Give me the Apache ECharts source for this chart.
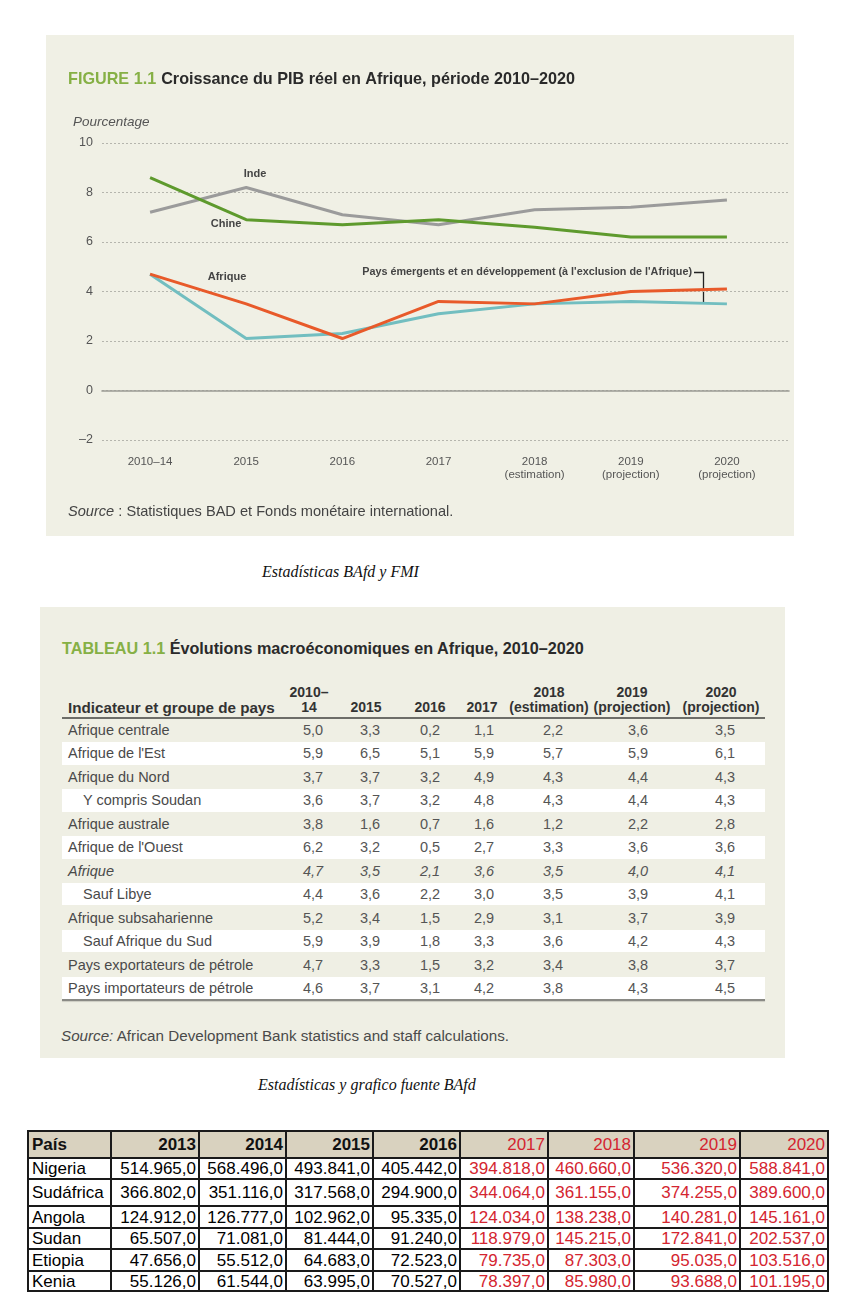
<!DOCTYPE html>
<html>
<head>
<meta charset="utf-8">
<script src="https://cdn.jsdelivr.net/npm/echarts@6/dist/echarts.min.js"></script>
<style>
  html, body { margin: 0; padding: 0; background: #ffffff; }
  body { width: 850px; height: 1314px; position: relative; overflow: hidden; font-family: "Liberation Sans", Arial, sans-serif; }
  .abs { position: absolute; white-space: nowrap; }
  #chartPanel { position: absolute; left: 46px; top: 35px; width: 748px; height: 501px; }
  .caption { position: absolute; font-family: "Liberation Serif", "Times New Roman", serif; font-style: italic; font-size: 16px; color: #111; white-space: nowrap; transform: translateY(-50%); }
  #tabPanel { position: absolute; left: 40px; top: 607px; width: 745px; height: 451px; background: #efefe4; }
  .t1 { position: absolute; white-space: nowrap; font-size: 14.5px; color: #4a4a4a; transform: translateY(-50%); }
  .t1h { position: absolute; white-space: nowrap; font-size: 14px; font-weight: bold; color: #333; transform: translate(-50%, -50%); }
  .t1v { position: absolute; white-space: nowrap; font-size: 14.5px; color: #555; transform: translate(-50%, -50%); }
  table.gdp { position: absolute; left: 27px; top: 1130px; border-collapse: collapse; font-family: "Liberation Sans", Arial, sans-serif; font-size: 17px; table-layout: fixed; }
  table.gdp td, table.gdp th { border: 2px solid #1a1a1a; padding: 0 2px 0 3px; text-align: right; line-height: 1; overflow: hidden; white-space: nowrap; }
  table.gdp th { background: #d9d2bf; font-weight: bold; color: #111; }
  table.gdp th.red { color: #d42530; font-weight: normal; }
  table.gdp td.red { color: #d42530; }
  table.gdp td.name, table.gdp th.name { text-align: left; }
</style>
</head>
<body>
<div id="chartPanel"></div>
<div class="caption" style="left:262px; top:572px;">Estadísticas BAfd y FMI</div>
<div id="tabPanel"></div>
<div class="caption" style="left:258px; top:1085px;">Estadísticas y grafico fuente BAfd</div>
<div id="gdpHolder"></div>

<script>
// ---------------- Figure 1.1 data ----------------
const categories = ['2010–14', '2015', '2016', '2017', '2018\n(estimation)', '2019\n(projection)', '2020\n(projection)'];
const inde = [7.2, 8.2, 7.1, 6.7, 7.3, 7.4, 7.7];
const chine = [8.6, 6.9, 6.7, 6.9, 6.6, 6.2, 6.2];
const paysEmergents = [4.7, 2.1, 2.3, 3.1, 3.5, 3.6, 3.5];
const afrique = [4.7, 3.5, 2.1, 3.6, 3.5, 4.0, 4.1];
const yMin = -2, yMax = 10, yStep = 2;

// ---------------- Tableau 1.1 data ----------------
const tabHeaderTop = ['2010–', '', '', '', '2018', '2019', '2020'];
const tabHeaderBottom = ['14', '2015', '2016', '2017', '(estimation)', '(projection)', '(projection)'];
const tabRowNames = ['Afrique centrale', "Afrique de l'Est", 'Afrique du Nord', 'Y compris Soudan', 'Afrique australe', "Afrique de l'Ouest", 'Afrique', 'Sauf Libye', 'Afrique subsaharienne', 'Sauf Afrique du Sud', 'Pays exportateurs de pétrole', 'Pays importateurs de pétrole'];
const tabIndented = [false, false, false, true, false, false, false, true, false, true, false, false];
const tabItalic = [false, false, false, false, false, false, true, false, false, false, false, false];
const tabValues = [
  ['5,0', '3,3', '0,2', '1,1', '2,2', '3,6', '3,5'],
  ['5,9', '6,5', '5,1', '5,9', '5,7', '5,9', '6,1'],
  ['3,7', '3,7', '3,2', '4,9', '4,3', '4,4', '4,3'],
  ['3,6', '3,7', '3,2', '4,8', '4,3', '4,4', '4,3'],
  ['3,8', '1,6', '0,7', '1,6', '1,2', '2,2', '2,8'],
  ['6,2', '3,2', '0,5', '2,7', '3,3', '3,6', '3,6'],
  ['4,7', '3,5', '2,1', '3,6', '3,5', '4,0', '4,1'],
  ['4,4', '3,6', '2,2', '3,0', '3,5', '3,9', '4,1'],
  ['5,2', '3,4', '1,5', '2,9', '3,1', '3,7', '3,9'],
  ['5,9', '3,9', '1,8', '3,3', '3,6', '4,2', '4,3'],
  ['4,7', '3,3', '1,5', '3,2', '3,4', '3,8', '3,7'],
  ['4,6', '3,7', '3,1', '4,2', '3,8', '4,3', '4,5']
];

// ---------------- GDP table data ----------------
const gdpYears = ['2013', '2014', '2015', '2016', '2017', '2018', '2019', '2020'];
const gdpCountries = ['Nigeria', 'Sudáfrica', 'Angola', 'Sudan', 'Etiopia', 'Kenia'];
const gdpNigeria = ['514.965,0', '568.496,0', '493.841,0', '405.442,0', '394.818,0', '460.660,0', '536.320,0', '588.841,0'];
const gdpSudafrica = ['366.802,0', '351.116,0', '317.568,0', '294.900,0', '344.064,0', '361.155,0', '374.255,0', '389.600,0'];
const gdpAngola = ['124.912,0', '126.777,0', '102.962,0', '95.335,0', '124.034,0', '138.238,0', '140.281,0', '145.161,0'];
const gdpSudan = ['65.507,0', '71.081,0', '81.444,0', '91.240,0', '118.979,0', '145.215,0', '172.841,0', '202.537,0'];
const gdpEtiopia = ['47.656,0', '55.512,0', '64.683,0', '72.523,0', '79.735,0', '87.303,0', '95.035,0', '103.516,0'];
const gdpKenia = ['55.126,0', '61.544,0', '63.995,0', '70.527,0', '78.397,0', '85.980,0', '93.688,0', '101.195,0'];

// ================= Figure with ECharts =================
const FONT = '"Liberation Sans", Arial, sans-serif';
const chart = echarts.init(document.getElementById('chartPanel'), null, { renderer: 'canvas' });
const lineSeries = (name, data, color, z) => ({
  name, type: 'line', data, xAxisIndex: 0, yAxisIndex: 0,
  symbol: 'none', smooth: false, z,
  lineStyle: { color, width: 3 }, itemStyle: { color },
  emphasis: { disabled: true }
});
chart.setOption({
  animation: false,
  backgroundColor: '#f0f0e5',
  textStyle: { fontFamily: FONT },
  title: {
    left: 22, top: 36, padding: 0,
    text: '{a|FIGURE 1.1} {b|Croissance du PIB réel en Afrique, période 2010–2020}',
    textStyle: {
      rich: {
        a: { fontFamily: FONT, fontSize: 16.2, fontWeight: 'bold', color: '#86b045' },
        b: { fontFamily: FONT, fontSize: 16.2, fontWeight: 'bold', color: '#2a2a2a' }
      }
    }
  },
  grid: [
    { left: 56, right: 19, top: 108, bottom: 96 },
    { left: 56, right: 5, top: 108, bottom: 96 }
  ],
  xAxis: [
    {
      type: 'category', gridIndex: 0, data: categories, boundaryGap: true,
      axisLine: { show: false }, axisTick: { show: false },
      axisLabel: { color: '#555', fontSize: 11.5, margin: 15, lineHeight: 13, fontFamily: FONT },
      splitLine: { show: false }
    },
    {
      type: 'value', gridIndex: 1, min: 0, max: 1, show: true,
      axisLine: { show: true, onZero: true, lineStyle: { color: '#9a9a94', width: 1.6 } },
      axisTick: { show: false }, axisLabel: { show: false }, splitLine: { show: false }
    }
  ],
  yAxis: [
    {
      type: 'value', gridIndex: 0, min: yMin, max: yMax, interval: yStep,
      axisLine: { show: false }, axisTick: { show: false },
      axisLabel: { color: '#555', fontSize: 12.5, margin: 9, fontFamily: FONT, formatter: v => String(v).replace('-', '–') },
      splitLine: { show: false }
    },
    {
      type: 'value', gridIndex: 1, min: yMin, max: yMax, interval: yStep,
      axisLine: { show: false }, axisTick: { show: false }, axisLabel: { show: false },
      splitLine: { show: true, lineStyle: { color: '#b5b5ad', type: [2, 2], width: 1 } }
    }
  ],
  series: [
    lineSeries('Inde', inde, '#9b9b9b', 3),
    lineSeries('Chine', chine, '#5e9a2d', 4),
    lineSeries("Pays émergents et en développement (à l'exclusion de l'Afrique)", paysEmergents, '#72bec0', 5),
    lineSeries('Afrique', afrique, '#e85a2a', 6)
  ],
  graphic: [
    { type: 'text', left: 27, top: 80, style: { text: 'Pourcentage', font: 'italic 13.5px ' + FONT, fill: '#555' } },
    { type: 'text', x: 209, y: 139, style: { text: 'Inde', font: 'bold 11px ' + FONT, fill: '#444', align: 'center', verticalAlign: 'middle' } },
    { type: 'text', x: 180, y: 189, style: { text: 'Chine', font: 'bold 11px ' + FONT, fill: '#444', align: 'center', verticalAlign: 'middle' } },
    { type: 'text', x: 181, y: 242, style: { text: 'Afrique', font: 'bold 11px ' + FONT, fill: '#444', align: 'center', verticalAlign: 'middle' } },
    { type: 'text', x: 646, y: 237, style: { text: "Pays émergents et en développement (à l'exclusion de l'Afrique)", font: 'bold 10.8px ' + FONT, fill: '#444', align: 'right', verticalAlign: 'middle' } },
    { type: 'polyline', shape: { points: [[648, 237.5], [657.5, 237.5], [657.5, 267]] }, style: { stroke: '#222', lineWidth: 1.3, fill: null } },
    { type: 'text', x: 22, y: 477, style: { text: '{i|Source} : Statistiques BAD et Fonds monétaire international.', font: '14.6px ' + FONT, fill: '#444', verticalAlign: 'middle', rich: { i: { fontStyle: 'italic', fontSize: 14.6, fontFamily: FONT, fill: '#444' } } } }
  ]
});

// ================= Tableau 1.1 (HTML) =================
(function () {
  const body = document.body;
  function add(cls, html, css) {
    const d = document.createElement('div');
    d.className = cls; d.innerHTML = html;
    Object.assign(d.style, css);
    body.appendChild(d); return d;
  }
  // title
  add('abs', '<span style="color:#86b045">TABLEAU 1.1</span> <span style="color:#2a2a2a">Évolutions macroéconomiques en Afrique, 2010–2020</span>',
    { left: '62px', top: '639px', fontSize: '16.2px', fontWeight: 'bold' });
  const hdrC = [309, 366, 430, 482, 549, 632, 721];
  const valC = [313, 370, 430, 484, 553, 638, 725];
  const row0 = 730, rowH = 23.45;
  // stripes
  for (let i = 0; i < tabRowNames.length; i++) {
    if (i % 2 === 1) {
      add('abs', '', { left: '62px', top: (row0 + i * rowH - 11.3) + 'px', width: '703px', height: '22.6px', background: '#ffffff' });
    }
  }
  // header
  for (let c = 0; c < 7; c++) {
    if (tabHeaderTop[c]) add('t1h', tabHeaderTop[c], { left: hdrC[c] + 'px', top: '692px' });
    add('t1h', tabHeaderBottom[c], { left: hdrC[c] + 'px', top: '707px' });
  }
  add('t1', 'Indicateur et groupe de pays', { left: '68px', top: '707px', fontWeight: 'bold', fontSize: '15.2px', color: '#333' });
  // rules
  add('abs', '', { left: '62px', top: '717px', width: '703px', height: '1.5px', background: '#6d6d68' });
  add('abs', '', { left: '62px', top: '999px', width: '703px', height: '1.5px', background: '#8a8a85', boxShadow: '0 1px 1px rgba(0,0,0,0.15)' });
  // rows
  for (let i = 0; i < tabRowNames.length; i++) {
    const y = row0 + i * rowH;
    const st = tabItalic[i] ? 'italic' : 'normal';
    add('t1', tabRowNames[i], { left: (tabIndented[i] ? 83 : 68) + 'px', top: y + 'px', fontStyle: st });
    for (let c = 0; c < 7; c++) {
      add('t1v', tabValues[i][c], { left: valC[c] + 'px', top: y + 'px', fontStyle: st });
    }
  }
  add('t1', '<i>Source:</i> African Development Bank statistics and staff calculations.', { left: '61px', top: '1035px', fontSize: '15.2px', color: '#4a4a4a' });
})();

// ================= GDP table (HTML) =================
(function () {
  const colW = [83, 88, 87, 87, 87, 88, 86, 106, 88];
  const rowH = [27, 21, 27, 22, 21, 22, 20];
  const rows = [gdpNigeria, gdpSudafrica, gdpAngola, gdpSudan, gdpEtiopia, gdpKenia];
  let html = '<table class="gdp"><colgroup>' + colW.map(w => '<col style="width:' + w + 'px">').join('') + '</colgroup>';
  html += '<tr style="height:' + rowH[0] + 'px"><th class="name">País</th>' +
    gdpYears.map((y, j) => '<th class="' + (j >= 4 ? 'red' : '') + '">' + y + '</th>').join('') + '</tr>';
  rows.forEach((r, i) => {
    html += '<tr style="height:' + rowH[i + 1] + 'px"><td class="name">' + gdpCountries[i] + '</td>' +
      r.map((v, j) => '<td class="' + (j >= 4 ? 'red' : '') + '">' + v + '</td>').join('') + '</tr>';
  });
  html += '</table>';
  document.getElementById('gdpHolder').innerHTML = html;
})();
</script>
</body>
</html>
